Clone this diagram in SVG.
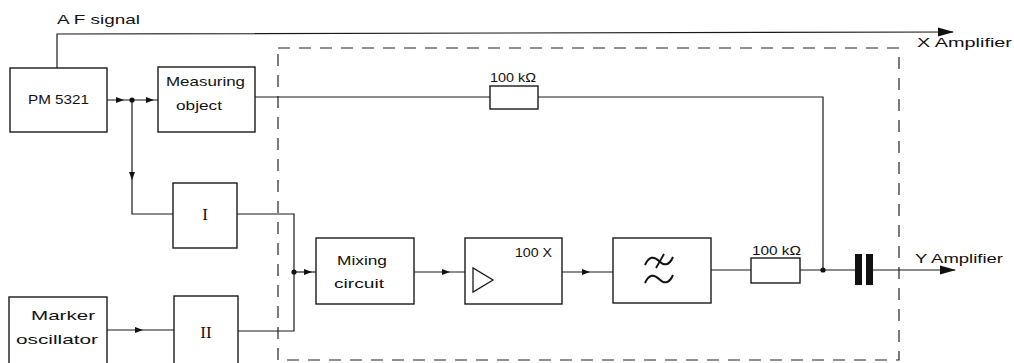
<svg xmlns="http://www.w3.org/2000/svg" width="1014" height="363" viewBox="0 0 1014 363">
<style>
.box{fill:#fff;stroke:#1a1a1a;stroke-width:1.4}
.ln{fill:none;stroke:#1a1a1a;stroke-width:1.2}
.dash{fill:none;stroke:#222;stroke-width:1.2;stroke-dasharray:12 9}
.t{font-family:"Liberation Sans","DejaVu Sans",sans-serif;font-size:13.5px;fill:#111}
.r{font-family:"Liberation Serif","DejaVu Serif",serif;font-size:17px;fill:#111}
.ah{fill:#111}
</style>
<defs>
<path id="ah" d="M0,0 L-8,-3 L-8,3 Z"/>
<path id="ahL" d="M0,0 L-16,-4.5 L-16,4.5 Z"/>
</defs>
<rect width="1014" height="363" fill="#fff"/>

<g id="dashed-enclosure"><rect class="dash" x="278" y="48" width="621" height="312"/></g>

<g id="connectors">
<polyline class="ln" points="57,68 57,34 953,32"/>
<use href="#ahL" class="ah" transform="translate(954,32) rotate(-0.1)"/>
<line class="ln" x1="107" y1="100" x2="158" y2="100"/>
<use href="#ah" class="ah" transform="translate(124,100)"/>
<use href="#ah" class="ah" transform="translate(154,100)"/>
<circle cx="132" cy="100" r="2.6" fill="#111"/>
<polyline class="ln" points="132,100 132,214 173,214"/>
<use href="#ah" class="ah" transform="translate(132,180) rotate(90)"/>
<polyline class="ln" points="237,214 294,214 294,331 238,331"/>
<circle cx="294" cy="272" r="2.6" fill="#111"/>
<line class="ln" x1="294" y1="272" x2="316" y2="272"/>
<use href="#ah" class="ah" transform="translate(312,272)"/>
<line class="ln" x1="107" y1="330" x2="174" y2="330"/>
<use href="#ah" class="ah" transform="translate(143,330)"/>
<line class="ln" x1="414" y1="272" x2="465" y2="272"/>
<use href="#ah" class="ah" transform="translate(450,272)"/>
<line class="ln" x1="562" y1="272" x2="613" y2="272"/>
<use href="#ah" class="ah" transform="translate(590,272)"/>
<line class="ln" x1="711" y1="270" x2="751" y2="270"/>
<line class="ln" x1="800" y1="270" x2="855" y2="270"/>
<circle cx="823" cy="270" r="2.6" fill="#111"/>
<polyline class="ln" points="823,270 823,97 538,97"/>
<line class="ln" x1="255" y1="97" x2="490" y2="97"/>
<line class="ln" x1="873" y1="270" x2="955" y2="270"/>
<use href="#ahL" class="ah" transform="translate(956,270)"/>
</g>

<g id="pm5321">
<rect class="box" x="10" y="68" width="97" height="64"/>
<text class="t" x="28" y="104" textLength="61" lengthAdjust="spacingAndGlyphs">PM 5321</text>
</g>
<g id="measuring-object">
<rect class="box" x="158" y="67" width="97" height="65"/>
<text class="t" x="166" y="86" textLength="79" lengthAdjust="spacingAndGlyphs">Measuring</text>
<text class="t" x="176" y="110" textLength="46" lengthAdjust="spacingAndGlyphs">object</text>
</g>
<g id="box-I">
<rect class="box" x="173" y="183" width="64" height="65"/>
<text class="r" x="205" y="220" text-anchor="middle">I</text>
</g>
<g id="box-II">
<rect class="box" x="174" y="296" width="64" height="70"/>
<text class="r" x="206" y="338" text-anchor="middle">II</text>
</g>
<g id="marker-oscillator">
<rect class="box" x="9" y="297" width="98" height="70"/>
<text class="t" x="31" y="320" textLength="64" lengthAdjust="spacingAndGlyphs">Marker</text>
<text class="t" x="16" y="344" textLength="82" lengthAdjust="spacingAndGlyphs">oscillator</text>
</g>
<g id="mixing-circuit">
<rect class="box" x="316" y="238" width="98" height="66"/>
<text class="t" x="337" y="265" textLength="50" lengthAdjust="spacingAndGlyphs">Mixing</text>
<text class="t" x="334" y="288" textLength="50" lengthAdjust="spacingAndGlyphs">circuit</text>
</g>
<g id="amplifier">
<rect class="box" x="465" y="238" width="97" height="66"/>
<polygon points="473,268 473,292 493,280" fill="none" stroke="#1a1a1a" stroke-width="1.3"/>
<text class="t" x="515" y="257" textLength="37" lengthAdjust="spacingAndGlyphs">100 X</text>
</g>
<g id="lowpass-filter">
<rect class="box" x="613" y="238" width="98" height="65"/>
<path d="M645,265 C649,256 654,256 659,261 C664,266 669,266 673,257" fill="none" stroke="#111" stroke-width="2"/>
<path d="M664,254 L656,268" fill="none" stroke="#111" stroke-width="1.8"/>
<path d="M645,283 C649,274 654,274 659,279 C664,284 669,284 673,275" fill="none" stroke="#111" stroke-width="2"/>
</g>
<g id="resistor-top">
<rect class="box" x="490" y="86" width="48" height="23"/>
<text class="t" x="490" y="82" textLength="46" lengthAdjust="spacingAndGlyphs">100 kΩ</text>
</g>
<g id="resistor-bottom">
<rect class="box" x="751" y="258" width="49" height="25"/>
<text class="t" x="752" y="255" textLength="49" lengthAdjust="spacingAndGlyphs">100 kΩ</text>
</g>
<g id="capacitor">
<rect x="855" y="254" width="7" height="31" fill="#111"/>
<rect x="866" y="254" width="7" height="31" fill="#111"/>
</g>
<g id="labels">
<text class="t" x="57" y="24" textLength="83" lengthAdjust="spacingAndGlyphs">A F signal</text>
<text class="t" x="917" y="47" textLength="95" lengthAdjust="spacingAndGlyphs">X Amplifier</text>
<text class="t" x="915" y="263" textLength="88" lengthAdjust="spacingAndGlyphs">Y Amplifier</text>
</g>
</svg>
